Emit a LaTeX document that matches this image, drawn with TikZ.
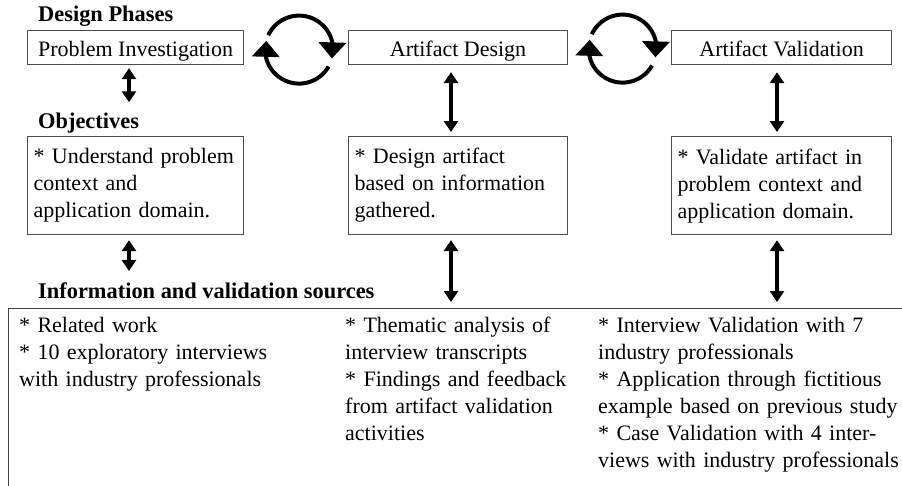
\documentclass[tikz,border=0pt]{standalone}
\usepackage{fontspec}
\setmainfont{Liberation Serif}
\usetikzlibrary{arrows.meta,bending,calc}

\begin{document}
\begin{tikzpicture}[
		x=1pt, y=-1pt,
		font=\fontsize{22}{27}\selectfont,
		every node/.style={inner sep=0pt},
		heading/.style={anchor=base west, font=\fontsize{22.4}{27}\selectfont\bfseries},
		phasebox/.style={draw=black!70, line width=1.2pt, anchor=north west,
				minimum height=34pt, text height=18pt, text depth=0pt},
		objbox/.style={draw=black!70, line width=1.2pt, anchor=north west,
				align=left, inner xsep=6pt, minimum height=98pt},
		srcframe/.style={draw=black!75, line width=1.3pt, anchor=north west,
				minimum width=1000pt, minimum height=300pt},
		srctext/.style={anchor=base west, align=left, text width=310pt},
		dblarrow/.style={line width=4pt,
				{Triangle[width=14pt,length=11pt]}-{Triangle[width=14pt,length=11pt]}},
		cyclearrow/.style={line width=4pt, -{Triangle[width=27pt,length=16pt,flex]}}
	]
	\useasboundingbox (0,0) rectangle (902,485);
	\clip (0,0) rectangle (902,485);

	% design phases
	\node[heading] (lblphase) at (38,21) {Design Phases};
	\node[phasebox, minimum width=216pt] (p1) at (27,30) {Problem Investigation};
	\node[phasebox, minimum width=219pt] (p2) at (348,30) {Artifact Design};
	\node[phasebox, minimum width=220pt] (p3) at (671,30) {Artifact Validation};

	% objectives
	\node[heading] (lblobj) at (38,128) {Objectives};
	\node[objbox, text width=204pt] (o1) at (27,136) {* Understand problem\\context and\\application domain.};
	\node[objbox, text width=207pt] (o2) at (348,136) {* Design artifact\\based on information\\gathered.};
	\node[objbox, text width=208pt] (o3) at (671,136) {* Validate artifact in\\problem context and\\application domain.};

	% sources
	\node[heading] (lblinfo) at (38,298) {Information and validation sources};
	\node[srcframe] (src) at (8,308) {};
	\node[srctext] (s1) at (19,332) {* Related work\\{}* 10 exploratory interviews\\with industry professionals};
	\node[srctext] (s2) at (345,332) {* Thematic analysis of\\interview transcripts\\{}* Findings and feedback\\from artifact validation\\activities};
	\node[srctext] (s3) at (598,332) {* Interview Validation with 7\\industry professionals\\{}* Application through fictitious\\example based on previous study\\{}* Case Validation with 4 inter-\\views with industry professionals};

	% vertical links
	\coordinate (ax1) at (129,0);
	\coordinate (ax2) at (451,0);
	\coordinate (ax3) at (777,0);
	\draw[dblarrow, shorten <=3pt, shorten >=10pt] (p1.south -| ax1) -- (lblobj.north -| ax1);
	\draw[dblarrow, shorten <=5pt, shorten >=11pt] (o1.south -| ax1) -- (lblinfo.north -| ax1);
	\draw[dblarrow, shorten <=7pt, shorten >=4pt] (p2.south -| ax2) -- (o2.north -| ax2);
	\draw[dblarrow, shorten <=5pt, shorten >=6pt] (o2.south -| ax2) -- (src.north -| ax2);
	\draw[dblarrow, shorten <=7pt, shorten >=4pt] (p3.south -| ax3) -- (o3.north -| ax3);
	\draw[dblarrow, shorten <=5pt, shorten >=6pt] (o3.south -| ax3) -- (src.north -| ax3);

	% cycles between phases
	\coordinate (cyc1) at ($(p1.east)!0.5!(p2.west)+(3,2)$);
	\coordinate (cyc2) at ($(p2.east)!0.5!(p3.west)+(3,1)$);
	\foreach \c in {cyc1,cyc2} {
			\draw[cyclearrow] ($(\c)+(-155:34)$) arc[start angle=-155, end angle=15, radius=34];
			\draw[cyclearrow] ($(\c)+(30:34)$) arc[start angle=30, end angle=195, radius=34];
		}
\end{tikzpicture}
\end{document}
